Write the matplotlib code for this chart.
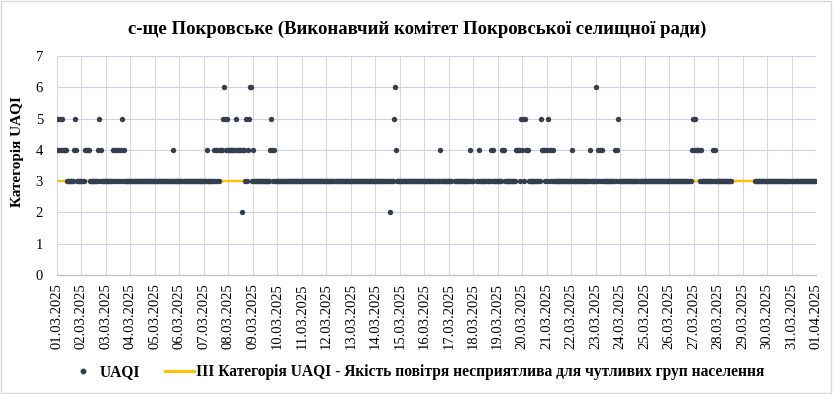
import numpy as np
import matplotlib
matplotlib.use("Agg")
import matplotlib.pyplot as plt
from matplotlib.lines import Line2D
from matplotlib.patches import Rectangle

# Hourly UAQI category, one string per day (01.03 ... 31.03), '-' = no data
day_values = [
    "454545444433333334543333",  # 01.03
    "333444443333333345343333",  # 02.03
    "333333343434343453433333",  # 03.03
    "333333333333333333333333",  # 04.03
    "333333333333333333433333",  # 05.03
    "333333333333333333333333",  # 06.03
    "333433333343434344456545",  # 07.03
    "444444454444424435345663",  # 08.03
    "433333333333333334543433",  # 09.03
    "333333333333333333333333",  # 10.03
    "333333333333333333333333",  # 11.03
    "333333333333333333333333",  # 12.03
    "333333333333333333333333",  # 13.03
    "333333333333332333564333",  # 14.03
    "333333333333333333333333",  # 15.03
    "333333333333333433333333",  # 16.03
    "333---333333333333333433",  # 17.03
    "3---33433333333334343333",  # 18.03
    "333344433333333333444435",  # 19.03
    "453544433333333333544434",  # 20.03
    "354343433333333333333333",  # 21.03
    "343333333333333333433333",  # 22.03
    "634343433333333333343453",  # 23.03
    "333333333333333333333333",  # 24.03
    "333333333333333333333333",  # 25.03
    "333333333333333333333345",  # 26.03
    "454444343333333333343433",  # 27.03
    "33333333333333----------",  # 28.03
    "------------333333333333",  # 29.03
    "333333333333333333333333",  # 30.03
    "333333333333333333333333",  # 31.03
]

tick_labels = ["%02d.03.2025" % d for d in range(1, 32)] + ["01.04.2025"]
threshold_level = 3
threshold_label = "ІІІ Категорія UAQI - Якість повітря несприятлива для чутливих груп населення"

# Convert strings to an hourly series
uaqi = []
for day in day_values:
    for c in day:
        uaqi.append(np.nan if c == "-" else int(c))
uaqi = np.array(uaqi, dtype=float)
x = np.arange(len(uaqi)) / 24.0

plt.rcParams['font.family'] = ['Liberation Serif', 'DejaVu Serif']

point_color = '#333f50'
line_color = '#ffc000'

fig = plt.figure(figsize=(8.33, 3.94), dpi=100)
ax = fig.add_axes([57 / 833, 1 - 275 / 394, (816 - 57) / 833, (275 - 56) / 394])

# Threshold line and UAQI points
ax.plot(x, np.full(len(x), threshold_level), color=line_color, lw=1.7, zorder=2)
ax.plot(x, uaqi, 'o', color=point_color, ms=3.9, mew=0, zorder=3)

ax.set_xlim(0, 31)
ax.set_ylim(0, 7)
ax.set_yticks(range(0, 8))
ax.set_xticks(range(0, 32))
ax.set_xticklabels(tick_labels, rotation=90, fontsize=10.5)
ax.tick_params(axis='y', length=0, pad=10, labelsize=10.5)
ax.tick_params(axis='x', length=0, pad=6)

# Gridlines
for d in range(0, 32):
    ax.axvline(d, color='#d9d9d9', lw=0.8, zorder=1)
for yv in range(1, 8):
    ax.axhline(yv, color='#c9d5ec', lw=0.8, zorder=1)

for s in ['top', 'right', 'left']:
    ax.spines[s].set_visible(False)
ax.spines['bottom'].set_color('#bfbfbf')
ax.spines['bottom'].set_linewidth(0.9)

# Texts
fig.text(0.501, 1 - 29 / 394, "с-ще Покровське (Виконавчий комітет Покровської селищної ради)",
         ha='center', va='center', fontsize=13.5, fontweight='bold')
fig.text(17 / 833, 1 - 152 / 394, "Категорія UAQI", rotation=90, ha='center', va='center',
         fontsize=11, fontweight='bold')

# Legend
handles = [
    Line2D([], [], marker='o', color=point_color, ms=3.2, linestyle='none'),
    Line2D([], [], color=line_color, lw=2.2),
]
fig.legend(handles, ["UAQI", threshold_label], loc='center', ncol=2, frameon=False,
           bbox_to_anchor=(0.5, 1 - 372 / 394), prop={'weight': 'bold', 'size': 11.2},
           handlelength=1.85, handletextpad=0.15, columnspacing=1.6)

# Chart border
fig.patches.append(Rectangle((0.001, 0.002), 0.997, 0.995, transform=fig.transFigure,
                             fill=False, edgecolor='#d9d9d9', lw=1))

fig.savefig("out.png", dpi=100)
